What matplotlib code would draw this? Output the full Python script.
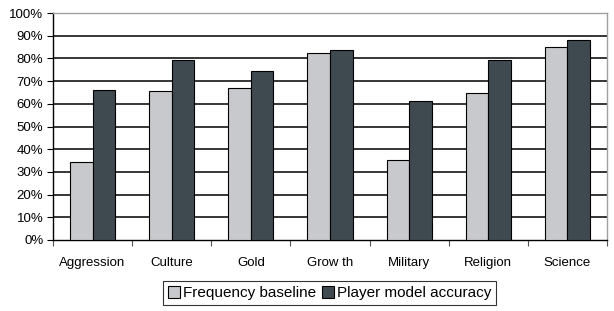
import matplotlib
matplotlib.use("Agg")
import matplotlib.pyplot as plt
import numpy as np

categories = ['Aggression', 'Culture', 'Gold', 'Grow th', 'Military', 'Religion', 'Science']
baseline = [34.4, 65.8, 66.8, 82.2, 35.2, 64.9, 85.2]
accuracy = [66.0, 79.2, 74.6, 83.7, 61.4, 79.2, 88.1]

plt.rcParams['font.family'] = ['Liberation Sans', 'DejaVu Sans']

fig = plt.figure(figsize=(6.14, 3.11), dpi=100)
ax = fig.add_axes([53 / 614, 1 - 240 / 311, 554 / 614, 227 / 311])

x = np.arange(len(categories))
w = 0.285
ax.bar(x - w / 2, baseline, w, color='#c8c9cc', edgecolor='black', linewidth=0.8,
       label='Frequency baseline', zorder=3)
ax.bar(x + w / 2, accuracy, w, color='#3f4a50', edgecolor='black', linewidth=0.8,
       label='Player model accuracy', zorder=3)

ax.set_xlim(-0.5, len(categories) - 0.5)
ax.set_ylim(0, 100)
ax.set_yticks(np.arange(0, 101, 10))
ax.set_yticklabels(['%d%%' % v for v in range(0, 101, 10)], fontsize=9.5)
for v in range(10, 100, 10):
    ax.axhline(v, color='black', linewidth=1.1, zorder=1)

ax.set_xticks(np.arange(len(categories) + 1) - 0.5)
ax.set_xticklabels([])
ax.set_xticks(x, minor=True)
ax.set_xticklabels(categories, minor=True, fontsize=9.5)
ax.tick_params(axis='x', which='minor', length=0, pad=12)
ax.tick_params(axis='x', which='major', length=4, width=0.8, color='#555555')
ax.tick_params(axis='y', length=4, width=0.8, pad=3)

ax.spines['left'].set_color('black')
ax.spines['bottom'].set_color('black')
ax.spines['top'].set_color('#a0a0a0')
ax.spines['right'].set_color('#a0a0a0')
for s in ax.spines.values():
    s.set_linewidth(1.0)

leg = fig.legend(loc='lower center', bbox_to_anchor=(0.537, 0.02), ncol=2, fontsize=11,
                 frameon=True, fancybox=False, edgecolor='black', handlelength=0.8,
                 handleheight=0.8, handletextpad=0.2, columnspacing=0.4,
                 borderpad=0.3, borderaxespad=0)
leg.get_frame().set_linewidth(0.8)

fig.savefig('out.png', dpi=100)
